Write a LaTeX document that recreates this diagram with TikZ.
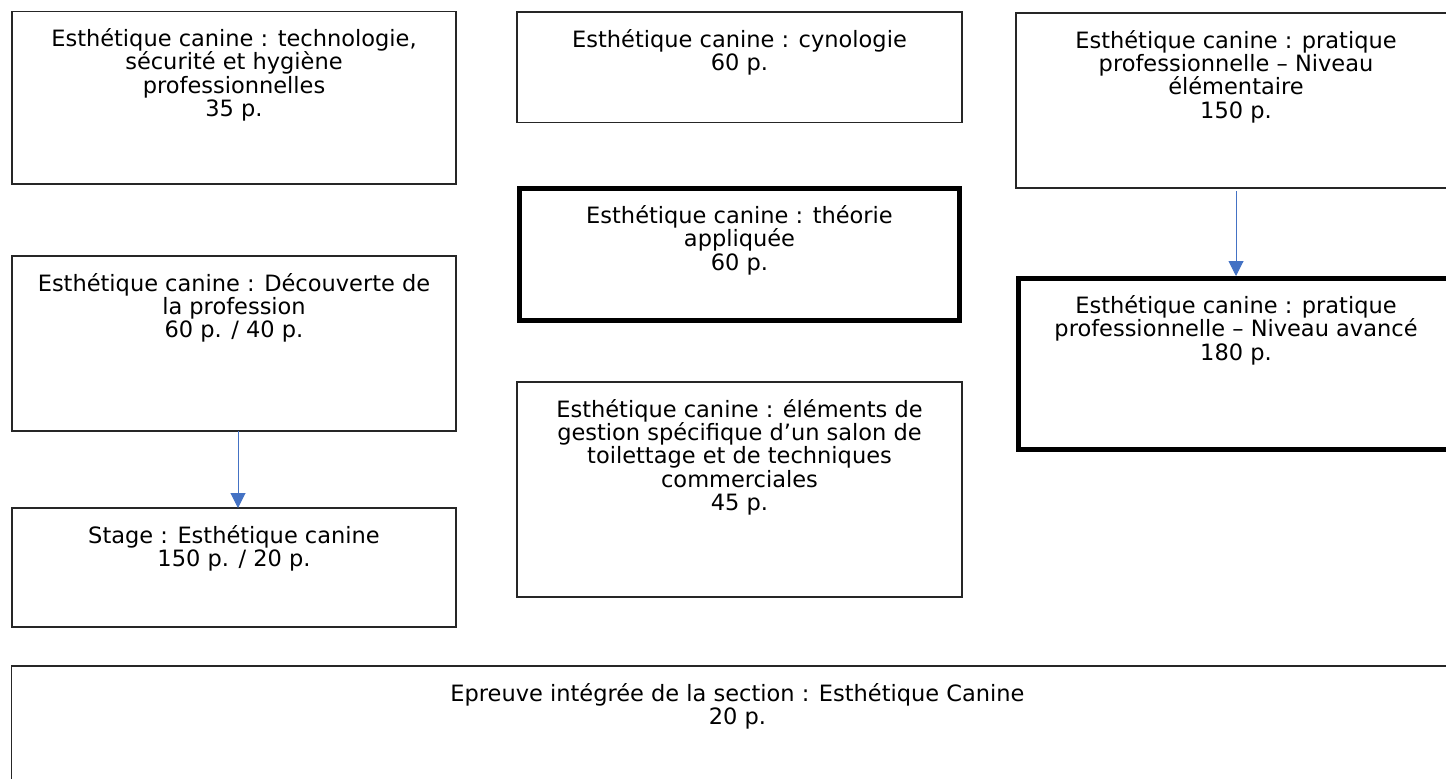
\documentclass[tikz,border=0pt]{standalone}
\usepackage{fontspec}
\setmainfont{DejaVu Sans}
\usetikzlibrary{positioning,arrows.meta}
\definecolor{linkblue}{HTML}{4472C4}
\begin{document}
\begin{tikzpicture}[x=1pt,y=-1pt,
    unit/.style={rectangle, draw=black!85, line width=1.2pt, inner sep=0pt, outer sep=0pt},
    keyunit/.style={unit, draw=black, line width=5pt},
    txt/.style={inner sep=0pt, align=center, font=\fontsize{22.5}{23.3}\selectfont},
    link/.style={draw=linkblue, line width=1pt, -{Triangle[length=15pt,width=15pt]}}]
  \useasboundingbox (0,0) rectangle (1446,779);
  \clip (0,0) rectangle (1446,779);
  % boxes
  \node (A) at (234,97.75) [unit, minimum width=444pt, minimum height=172.5pt] {};
  \node (B) at (739.5,67.25) [unit, minimum width=445pt, minimum height=110.5pt] {};
  \node (C) at (1236,100.5) [unit, minimum width=440pt, minimum height=175pt] {};
  \node (D) at (739.5,254.5) [keyunit, minimum width=440pt, minimum height=132pt] {};
  \node (E) at (234,343.5) [unit, minimum width=444pt, minimum height=175pt] {};
  \node (F) at (1236,364) [keyunit, minimum width=435pt, minimum height=171pt] {};
  \node (G) at (739.5,489.5) [unit, minimum width=445pt, minimum height=215pt] {};
  \node (H) at (234,567.5) [unit, minimum width=444pt, minimum height=119pt] {};
  \node (I) at (737.5,741) [unit, minimum width=1452pt, minimum height=150pt] {};
  % texts
  \node (At) [txt, below=17pt of A.north] {Esthétique canine : technologie,\\ sécurité et hygiène\\ professionnelles\\ 35 p.};
  \node (Bt) [txt, below=17pt of B.north] {Esthétique canine : cynologie\\ 60 p.};
  \node (Ct) [txt, below=17pt of C.north] {Esthétique canine : pratique\\ professionnelle – Niveau\\ élémentaire\\ 150 p.};
  \node (Dt) [txt, below=17pt of D.north] {Esthétique canine : théorie\\ appliquée\\ 60 p.};
  \node (Et) [txt, below=17pt of E.north] {Esthétique canine : Découverte de\\ la profession\\ 60 p. / 40 p.};
  \node (Ft) [txt, below=17pt of F.north] {Esthétique canine : pratique\\ professionnelle – Niveau avancé\\ 180 p.};
  \node (Gt) [txt, below=17pt of G.north] {Esthétique canine : éléments de\\ gestion spécifique d’un salon de\\ toilettage et de techniques\\ commerciales\\ 45 p.};
  \node (Ht) [txt, below=17pt of H.north] {Stage : Esthétique canine\\ 150 p. / 20 p.};
  \node (It) [txt, below=17pt of I.north] {Epreuve intégrée de la section : Esthétique Canine\\ 20 p.};
  % arrows
  \draw[link] ([xshift=4pt]E.south) -- ([xshift=4pt]H.north);
  \draw[link, shorten <=3pt, shorten >=2.5pt] (C.south) -- (F.north);
\end{tikzpicture}
\end{document}
